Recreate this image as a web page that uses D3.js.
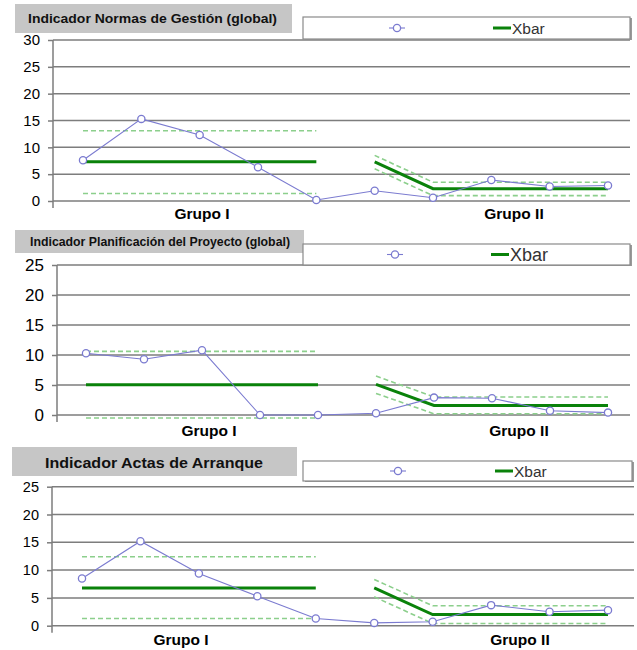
<!DOCTYPE html>
<html><head><meta charset="utf-8">
<script src="https://cdn.jsdelivr.net/npm/d3@7"></script>
<style>
html,body{margin:0;padding:0;background:#fff;}
svg{display:block;font-family:"Liberation Sans",Arial,sans-serif;}
</style></head>
<body>
<svg id="chart" width="637" height="650"></svg>
<script>
// ---- data ----
const categories = [1,2,3,4,5,6,7,8,9,10];
const groups = ["Grupo I","Grupo I","Grupo I","Grupo I","Grupo I","Grupo II","Grupo II","Grupo II","Grupo II","Grupo II"];
const groupLabels = ["Grupo I","Grupo II"];
const legendLabels = ["", "Xbar"];

const titles = ["Indicador Normas de Gestión (global)", "Indicador Planificación del Proyecto (global)", "Indicador Actas de Arranque"];

const yTicksNormas = [0,5,10,15,20,25,30];
const yTicksPlan = [0,5,10,15,20,25];
const yTicksActas = [0,5,10,15,20,25];

const normasValues = [7.6, 15.3, 12.3, 6.3, 0.2, 1.9, 0.6, 3.9, 2.7, 2.9];
const normasXbar   = [7.3, 7.3, 7.3, 7.3, 7.3, 7.3, 2.3, 2.3, 2.3, 2.3];
const normasUCL    = [13.1, 13.1, 13.1, 13.1, 13.1, 8.5, 3.5, 3.5, 3.5, 3.5];
const normasLCL    = [1.4, 1.4, 1.4, 1.4, 1.4, 6.0, 1.0, 1.0, 1.0, 1.0];

const planValues = [10.3, 9.3, 10.8, 0, 0, 0.3, 2.9, 2.8, 0.7, 0.4];
const planXbar   = [5.05, 5.05, 5.05, 5.05, 5.05, 5.1, 1.6, 1.6, 1.6, 1.6];
const planUCL    = [10.6, 10.6, 10.6, 10.6, 10.6, 6.5, 3.0, 3.0, 3.0, 3.0];
const planLCL    = [-0.5, -0.5, -0.5, -0.5, -0.5, 3.6, 0.2, 0.2, 0.2, 0.2];

const actasValues = [8.5, 15.2, 9.4, 5.3, 1.3, 0.5, 0.7, 3.7, 2.5, 2.8];
const actasXbar   = [6.8, 6.8, 6.8, 6.8, 6.8, 6.8, 2.0, 2.0, 2.0, 2.0];
const actasUCL    = [12.4, 12.4, 12.4, 12.4, 12.4, 8.3, 3.6, 3.6, 3.6, 3.6];
const actasLCL    = [1.3, 1.3, 1.3, 1.3, 1.3, 5.2, 0.4, 0.4, 0.4, 0.4];

// ---- layout (positions / styles) ----
const panels = [
  {title: titles[0], ticks: yTicksNormas, values: normasValues, xbar: normasXbar, ucl: normasUCL, lcl: normasLCL,
   yTop: 40, y0: 201, left: 53, right: 630, x0: 83, x1: 608, tickFont: 15,
   titleBox: [15, 4, 277, 29], titleX: 28, titleY: 23, titleLen: 249, titleFont: 13.5,
   legBox: [303, 17, 327, 22], legMarkX: 397, legLineX: 493, legFont: 15.5,
   grpX: [202, 514], grpY: 219},
  {title: titles[1], ticks: yTicksPlan, values: planValues, xbar: planXbar, ucl: planUCL, lcl: planLCL,
   yTop: 265, y0: 415, left: 57, right: 630, x0: 86, x1: 608, tickFont: 17,
   titleBox: [15, 230, 289, 23], titleX: 30, titleY: 246, titleLen: 260, titleFont: 12.5,
   legBox: [303, 244, 327, 21], legMarkX: 395, legLineX: 491, legFont: 18,
   grpX: [209, 519], grpY: 436},
  {title: titles[2], ticks: yTicksActas, values: actasValues, xbar: actasXbar, ucl: actasUCL, lcl: actasLCL,
   yTop: 486.7, y0: 625.7, left: 52, right: 634, x0: 82, x1: 608, tickFont: 14.5,
   titleBox: [12, 447, 285, 29], titleX: 45, titleY: 468, titleLen: 218, titleFont: 15,
   legBox: [303, 461, 329, 20], legMarkX: 398, legLineX: 495, legFont: 15.5,
   grpX: [181, 520], grpY: 645}
];

const seriesColor = "#7b7bd0";
const xbarColor = "#0a820a";
const limitColor = "#8ccf8c";
const gridColor = "#7d7d7d";

const svg = d3.select("#chart");

panels.forEach(p => {
  const g = svg.append("g");
  const yMax = d3.max(p.ticks);
  const y = d3.scaleLinear().domain([0, yMax]).range([p.y0, p.yTop]);
  const x = d3.scalePoint().domain(categories).range([p.x0, p.x1]).padding(0);

  // gridlines
  g.append("g").selectAll("line").data(p.ticks).join("line")
    .attr("x1", p.left).attr("x2", p.right)
    .attr("y1", d => y(d)).attr("y2", d => y(d))
    .attr("stroke", gridColor).attr("stroke-width", 1.5);

  // y axis
  const axis = d3.axisLeft(y).tickValues(p.ticks).tickSize(5).tickPadding(8).tickFormat(d3.format("d"));
  const ag = g.append("g").attr("transform", `translate(${p.left},0)`).call(axis);
  ag.select(".domain").remove();
  ag.selectAll(".tick line").attr("stroke", gridColor).attr("stroke-width", 1.5);
  ag.selectAll(".tick text").attr("font-size", p.tickFont).attr("fill", "#000")
    .attr("font-family", "'Liberation Sans', Arial, sans-serif");
  g.append("line").attr("x1", p.left).attr("x2", p.left)
    .attr("y1", y(yMax)).attr("y2", p.y0 + 7)
    .attr("stroke", gridColor).attr("stroke-width", 1.5);

  // control limits & Xbar per group
  groupLabels.forEach(gr => {
    const idx = categories.map((c, i) => i).filter(i => groups[i] === gr);
    const mk = arr => idx.map(i => [x(categories[i]), y(arr[i])]);
    const line = d3.line();
    [p.ucl, p.lcl].forEach(arr => {
      g.append("path").attr("d", line(mk(arr))).attr("fill", "none")
        .attr("stroke", limitColor).attr("stroke-width", 1.6).attr("stroke-dasharray", "5,3");
    });
    g.append("path").attr("d", line(mk(p.xbar))).attr("fill", "none")
      .attr("stroke", xbarColor).attr("stroke-width", 3);
  });

  // data series
  const dline = d3.line().x((d, i) => x(categories[i])).y(d => y(d));
  g.append("path").attr("d", dline(p.values)).attr("fill", "none")
    .attr("stroke", seriesColor).attr("stroke-width", 1.1);
  g.append("g").selectAll("circle").data(p.values).join("circle")
    .attr("cx", (d, i) => x(categories[i])).attr("cy", d => y(d)).attr("r", 3.6)
    .attr("fill", "#fff").attr("stroke", seriesColor).attr("stroke-width", 1.3);

  // group labels
  g.append("g").selectAll("text").data(groupLabels).join("text")
    .attr("x", (d, i) => p.grpX[i]).attr("y", p.grpY)
    .attr("text-anchor", "middle").attr("font-size", 15.5).attr("font-weight", "bold")
    .attr("fill", "#000").text(d => d);

  // title box
  const tb = p.titleBox;
  g.append("rect").attr("x", tb[0]).attr("y", tb[1]).attr("width", tb[2]).attr("height", tb[3])
    .attr("fill", "#c6c6c6");
  g.append("text").attr("x", p.titleX).attr("y", p.titleY)
    .attr("font-size", p.titleFont).attr("font-weight", "bold").attr("fill", "#111")
    .attr("textLength", p.titleLen).attr("lengthAdjust", "spacingAndGlyphs")
    .text(p.title);

  // legend box
  const lb = p.legBox;
  g.append("rect").attr("x", lb[0] + 2).attr("y", lb[1] + 1).attr("width", lb[2]).attr("height", lb[3])
    .attr("fill", "#9a9a9a");
  g.append("rect").attr("x", lb[0]).attr("y", lb[1]).attr("width", lb[2]).attr("height", lb[3])
    .attr("fill", "#fff").attr("stroke", "#8a8a8a").attr("stroke-width", 1.2);
  const ly = lb[1] + lb[3] / 2;
  g.append("line").attr("x1", p.legMarkX - 8).attr("x2", p.legMarkX + 8).attr("y1", ly).attr("y2", ly)
    .attr("stroke", seriesColor).attr("stroke-width", 1.1);
  g.append("circle").attr("cx", p.legMarkX).attr("cy", ly).attr("r", 3.6)
    .attr("fill", "#fff").attr("stroke", seriesColor).attr("stroke-width", 1.3);
  g.append("line").attr("x1", p.legLineX).attr("x2", p.legLineX + 18).attr("y1", ly).attr("y2", ly)
    .attr("stroke", xbarColor).attr("stroke-width", 3);
  g.append("text").attr("x", p.legLineX + 19).attr("y", ly).attr("dy", "0.36em")
    .attr("font-size", p.legFont).attr("fill", "#333").text(legendLabels[1]);
});
</script>
</body></html>
